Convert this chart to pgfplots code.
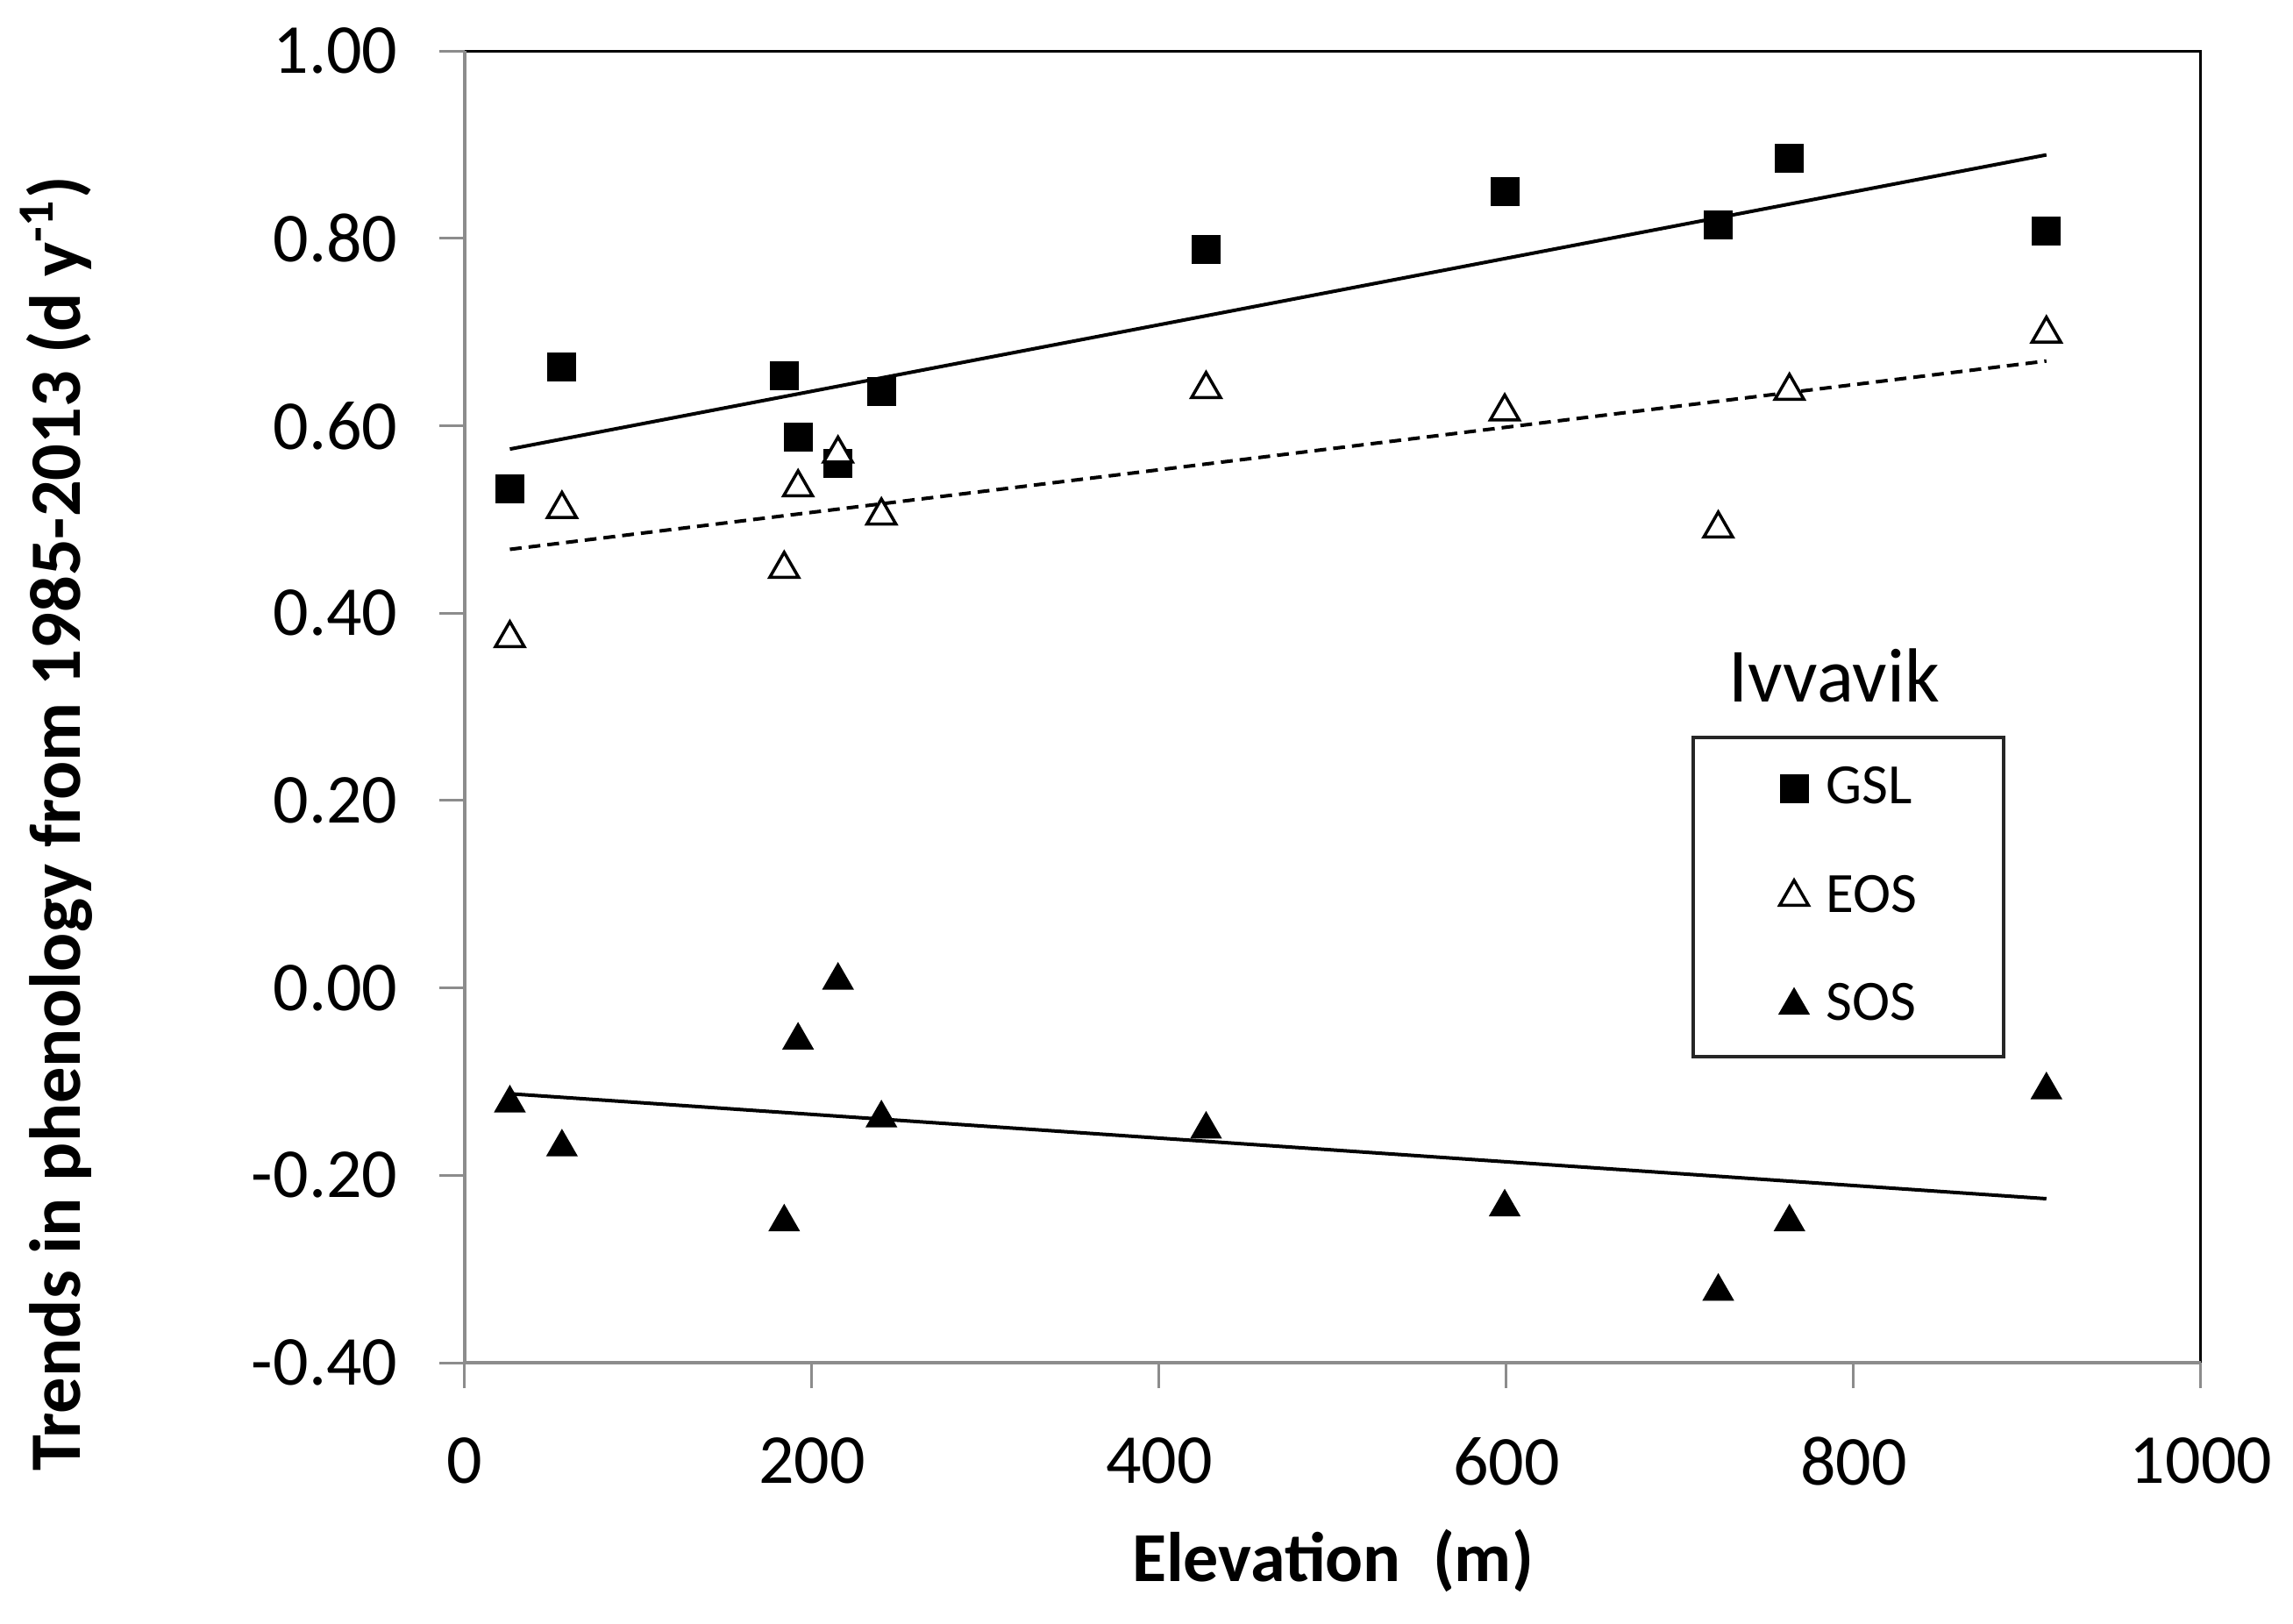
\documentclass[border=0pt]{standalone}
\usepackage{fontspec}
\setmainfont{Carlito}
\usepackage{pgfplots}
\pgfplotsset{compat=1.18}
\begin{document}
\begin{tikzpicture}
\begin{axis}[
  name=ax, at={(0,0)}, anchor=south west,
  scale only axis, width=396pt, height=299.2pt,
  xmin=0, xmax=1000, ymin=-0.4, ymax=1.0,
  xtick={0,200,400,600,800,1000},
  ytick={-0.4,-0.2,0,0.2,0.4,0.6,0.8,1.0},
  tick align=outside, xtick pos=bottom, ytick pos=left,
  major tick length=5.8pt,
  every tick/.style={draw=black!45, line width=0.6pt},
  axis line style={draw=none},
  clip=false,
  /pgf/number format/assume math mode=true,
  ticklabel style={font=\fontsize{16}{19}\selectfont},
  y tick label style={/pgf/number format/fixed, /pgf/number format/fixed zerofill, /pgf/number format/precision=2, xshift=-6pt},
  x tick label style={/pgf/number format/set thousands separator={}, yshift=-7.7pt},
  xlabel={\bfseries Elevation\ \ (m)},
  xlabel style={font=\fontsize{16}{19}\selectfont, at={(axis description cs:0.5,-0.151)}, anchor=center},
  ylabel={\bfseries Trends in phenology from 1985-2013 (d y\textsuperscript{-1})},
  ylabel style={font=\fontsize{16.5}{19}\selectfont, at={(axis description cs:-0.2353,0.411)}, anchor=center, rotate=0},
  legend style={at={(rel axis cs:0.7066,0.478)}, anchor=north west, draw=black!85, line width=0.8pt,
    inner xsep=19.7pt, inner ysep=6.7pt, row sep=14.8pt, column sep=4pt,
    font=\fontsize{13}{15}\selectfont,
    nodes={inner sep=0pt}},
  legend cell align=left,
  legend image code/.code={\draw[#1] plot coordinates {(0pt,0pt)};},
]
% GSL
\addplot[only marks, mark=square*, mark size=3.1pt, mark options={fill=black, draw=black, line width=0.4pt}]
coordinates {(26,0.533) (56,0.663) (184,0.653) (192,0.588) (215,0.560) (240,0.636) (427,0.788) (599,0.850) (722,0.814) (763,0.885) (911,0.808)};
\addlegendentry{GSL}
% EOS
\addplot[only marks, mark=triangle*, mark size=3.8pt, mark options={fill=white, draw=black, line width=0.7pt}]
coordinates {(26,0.373) (56,0.511) (184,0.447) (192,0.534) (215,0.570) (240,0.504) (427,0.639) (599,0.615) (722,0.490) (763,0.637) (911,0.698)};
\addlegendentry{EOS}
% SOS
\addplot[only marks, mark=triangle*, mark size=3.8pt, mark options={fill=black, draw=black, line width=0.4pt}]
coordinates {(26,-0.123) (56,-0.170) (184,-0.250) (192,-0.056) (215,0.008) (240,-0.139) (427,-0.151) (599,-0.234) (722,-0.324) (763,-0.250) (911,-0.109)};
\addlegendentry{SOS}
% trend lines
\addplot[forget plot, black, line width=0.8pt] coordinates {(26,0.575) (911,0.889)};
\addplot[forget plot, black, line width=0.8pt, dash pattern=on 2.7pt off 1.6pt] coordinates {(26,0.468) (911,0.669)};
\addplot[forget plot, black, line width=0.8pt] coordinates {(26,-0.113) (911,-0.225)};
% frame
\draw[black, line width=0.6pt] (rel axis cs:0,1) -- (rel axis cs:1,1) -- (rel axis cs:1,0);
\draw[black!45, line width=0.8pt] (rel axis cs:0,1) -- (rel axis cs:0,0) -- (rel axis cs:1,0);
\node[anchor=base, font=\fontsize{17.5}{20}\selectfont] at (rel axis cs:0.7889,0.504) {Ivvavik};
\end{axis}
\pgfresetboundingbox
\path[use as bounding box] (-106pt,-59.4pt) rectangle (417pt,310.8pt);
\end{tikzpicture}
\end{document}
